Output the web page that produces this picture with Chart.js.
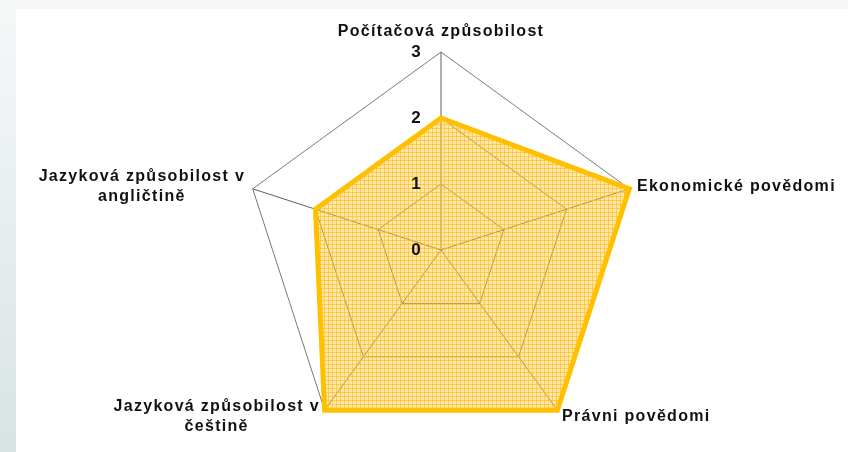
<!DOCTYPE html>
<html>
<head>
<meta charset="utf-8">
<script src="https://cdn.jsdelivr.net/npm/chart.js@4"></script>
<style>
  html, body { margin: 0; padding: 0; width: 848px; height: 452px; overflow: hidden; background: #f6f8f8; }
  #strip { position: absolute; left: 0; top: 0; width: 16px; height: 452px;
           background: linear-gradient(to bottom, #f6f8f8, #d9e3e4); }
  #panel { position: absolute; left: 16px; top: 9px; right: 0; bottom: 0; background: #fff; }
  #chart { position: absolute; left: 0; top: 0; }
</style>
</head>
<body>
<div id="strip"></div>
<div id="panel"></div>
<canvas id="chart" width="848" height="452"></canvas>
<script>
// chart data
const categories = [
  ['Počítačová způsobilost'],
  ['Ekonomické povědomi'],
  ['Právni povědomi'],
  ['Jazyková způsobilost v', 'češtině'],
  ['Jazyková způsobilost v', 'angličtině']
];
const scores = [2, 3, 3, 3, 2];
const tickValues = [0, 1, 2, 3];

function makePattern() {
  const c = document.createElement('canvas');
  c.width = 4; c.height = 4;
  const g = c.getContext('2d');
  g.fillStyle = 'rgba(255, 204, 70, 0.45)';
  g.fillRect(0, 0, 4, 4);
  g.fillStyle = 'rgba(255, 184, 20, 0.6)';
  g.fillRect(0, 0, 4, 1);
  g.fillRect(0, 0, 1, 4);
  return g.createPattern(c, 'repeat');
}

// tick numbers and axis names drawn by hand, so the lines stay centred
const labelPlugin = {
  id: 'radarLabels',
  afterDatasetsDraw(chart) {
    const scale = chart.scales.r;
    const ctx = chart.ctx;
    ctx.save();
    ctx.fillStyle = '#111';
    ctx.textAlign = 'center';
    ctx.textBaseline = 'middle';
    ctx.font = 'bold 17px "Liberation Sans", Arial, sans-serif';
    tickValues.forEach(v => {
      const d = scale.getDistanceFromCenterForValue(v);
      ctx.fillText(String(v), scale.xCenter - 25, scale.yCenter - d);
    });

    ctx.font = 'bold 16px "Liberation Sans", Arial, sans-serif';
    ctx.letterSpacing = '1.3px';
    const lh = 20;
    categories.forEach((lines, i) => {
      const p = scale.getPointPosition(i, scale.drawingArea + 8);
      const dx = p.x - scale.xCenter;
      const bw = Math.max(...lines.map(l => ctx.measureText(l).width));
      const bh = lines.length * lh;
      let cx = p.x;
      if (dx > 2) cx = p.x + bw / 2;
      else if (dx < -2) cx = p.x - bw / 2;
      let top = p.y - bh / 2;
      if (Math.abs(dx) <= 2 && p.y < scale.yCenter) top = p.y - bh - 2;
      lines.forEach((l, j) => ctx.fillText(l, cx, top + lh * j + lh / 2));
    });
    ctx.restore();
  }
};

new Chart(document.getElementById('chart'), {
  type: 'radar',
  data: {
    labels: categories,
    datasets: [{
      data: scores,
      backgroundColor: makePattern(),
      borderColor: '#ffc000',
      borderWidth: 5,
      borderJoinStyle: 'miter',
      pointRadius: 0,
      pointHoverRadius: 0,
      fill: true
    }]
  },
  options: {
    responsive: false,
    animation: false,
    devicePixelRatio: 1,
    layout: { padding: { left: 243, right: 209, top: 52, bottom: 4 } },
    plugins: { legend: { display: false }, tooltip: { enabled: false } },
    elements: { line: { tension: 0 } },
    scales: {
      r: {
        min: 0,
        max: 3,
        ticks: { display: false, stepSize: 1 },
        pointLabels: { display: false },
        grid: {
          color: ctx => ctx.tick && ctx.tick.value === 3 ? '#7a7a7a' : '#666666',
          lineWidth: 1
        },
        angleLines: { color: '#5e5e5e', lineWidth: 1 }
      }
    }
  },
  plugins: [labelPlugin]
});
</script>
</body>
</html>
